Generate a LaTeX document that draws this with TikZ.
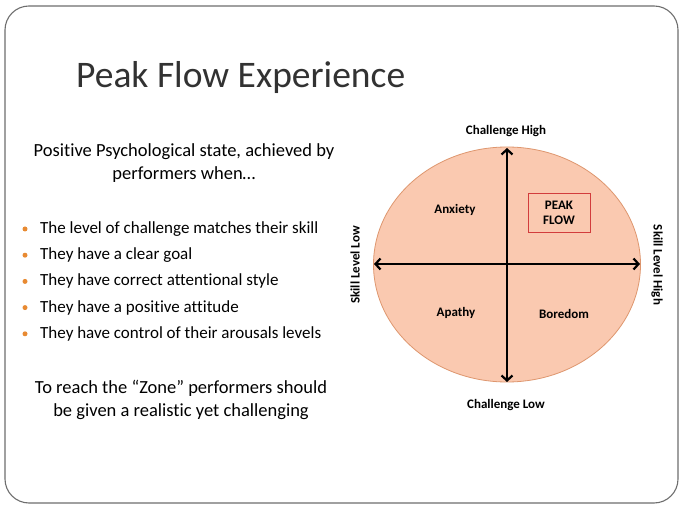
\documentclass[tikz,border=0pt]{standalone}
\usepackage{fontspec}
\setmainfont{Carlito}[Ligatures=NoCommon]
\usetikzlibrary{arrows.meta,shapes.geometric}
\definecolor{peach}{RGB}{250,201,176}
\definecolor{peachline}{RGB}{222,150,110}
\definecolor{bulletor}{RGB}{232,138,50}
\definecolor{titlegray}{RGB}{50,50,50}
\definecolor{framegray}{RGB}{110,110,110}
\definecolor{boxred}{RGB}{210,60,60}
\tikzset{
  lbl/.style={font=\fontsize{13}{15}\selectfont\bfseries, text=black, inner sep=0pt},
  bul/.style={font=\fontsize{17}{19}\selectfont, anchor=west, inner sep=0pt, text=black},
  dot/.style={circle, fill=bulletor, inner sep=0pt, minimum size=5pt},
  axis/.style={line width=2.6pt, {Straight Barb[length=5pt,width=11pt,line width=2.2pt]}-{Straight Barb[length=5pt,width=11pt,line width=2.2pt]}},
  para/.style={font=\fontsize{18.5}{23}\selectfont, align=center, inner sep=0pt, text=black}
}
\begin{document}
\begin{tikzpicture}[x=1pt,y=-1pt]
\useasboundingbox (0,0) rectangle (680,510);
\fill[white] (0,0) rectangle (680,510);
\draw[framegray, line width=1.1pt, rounded corners=24pt] (5,6) rectangle (678,503);
\node[font=\fontsize{37.5}{40}\selectfont, text=titlegray, anchor=west, inner sep=0pt] (title) at (76,78) {Peak Flow Experience};
\node[para] (intro) at (184,163) {Positive Psychological state, achieved by\\performers when…};
\foreach \i/\t in {1/The level of challenge matches their skill,2/They have a clear goal,3/They have correct attentional style,4/They have a positive attitude,5/They have control of their arousals levels}{
  \node[dot] (d\i) at (25,{229+26.2*(\i-1)}) {};
  \node[bul] (b\i) at (40,{229+26.2*(\i-1)}) {\t};
}
\node[para] (zone) at (181,400) {To reach the “Zone” performers should\\be given a realistic yet challenging};
% diagram
\node[ellipse, draw=peachline, fill=peach, line width=0.8pt, minimum width=267pt, minimum height=235pt, inner sep=0pt] (ell) at (507,264.5) {};
\coordinate (top) at (507,148);
\coordinate (bot) at (507,382);
\coordinate (lft) at (374,264);
\coordinate (rgt) at (640,264);
\draw[axis] (bot) -- (top);
\draw[axis] (lft) -- (rgt);
\node[draw=boxred, line width=0.8pt, minimum width=62pt, minimum height=39pt, inner sep=0pt] (pf) at (559,212.5) {};
\node[lbl, align=center] (pft) at (559,212.5) {PEAK\\FLOW};
\node[lbl] (anx) at (455,210) {Anxiety};
\node[lbl] (apa) at (456,313) {Apathy};
\node[lbl] (bor) at (564,314) {Boredom};
\node[lbl] (ch) at (506,131) {Challenge High};
\node[lbl] (cl) at (506,405) {Challenge Low};
\node[lbl, rotate=90] (sl) at (355,265) {Skill Level Low};
\node[lbl, rotate=-90] (sh) at (657,265) {Skill Level High};
\end{tikzpicture}
\end{document}
